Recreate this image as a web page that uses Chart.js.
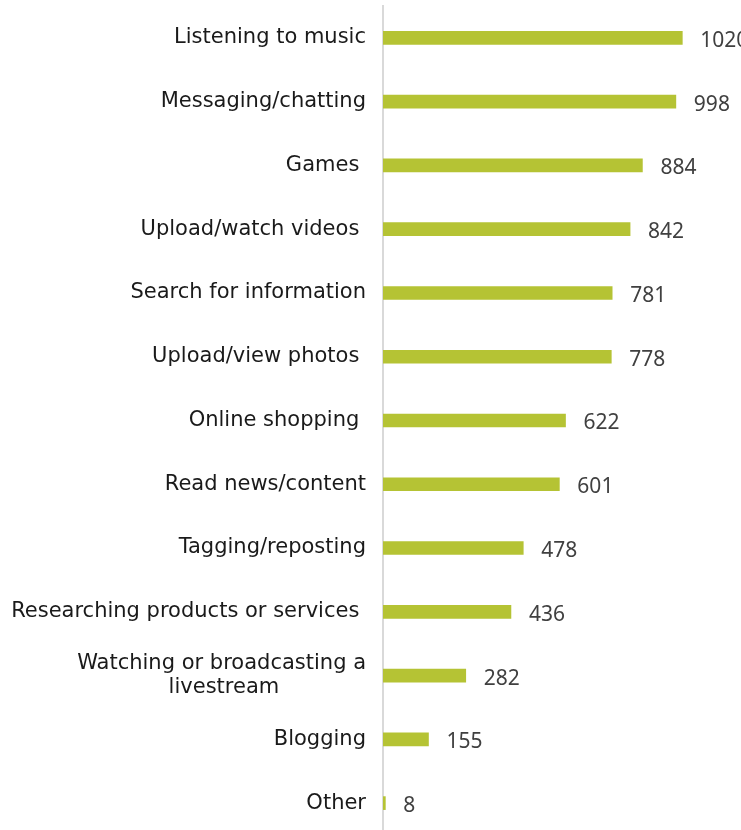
<!DOCTYPE html>
<html>
<head>
<meta charset="utf-8">
<script src="https://cdn.jsdelivr.net/npm/chart.js@4/dist/chart.umd.min.js"></script>
<style>
  html, body { margin: 0; padding: 0; background: #fff; overflow: hidden; }
  #wrap { width: 741px; height: 830px; overflow: hidden; }
</style>
</head>
<body>
<div id="wrap"><canvas id="myChart" width="741" height="835"></canvas></div>
<script>
// Activities and number of respondents
const atividades = [
  'Listening to music',
  'Messaging/chatting',
  'Games ',
  'Upload/watch videos ',
  'Search for information',
  'Upload/view photos ',
  'Online shopping ',
  'Read news/content',
  'Tagging/reposting',
  'Researching products or services ',
  ['Watching or broadcasting a', 'livestream'],
  'Blogging',
  'Other'
];
const respostas = [1020, 998, 884, 842, 781, 778, 622, 601, 478, 436, 282, 155, 8];

const fonteRotulo = '21px "DejaVu Sans"';
const medidor = document.createElement('canvas').getContext('2d');
medidor.font = fonteRotulo;

// centre the lines of a multi-line label by padding shorter ones with spaces
function centralizar(linhas) {
  const larg = linhas.map(l => medidor.measureText(l).width);
  const max = Math.max(...larg);
  const esp = medidor.measureText(' ').width;
  return linhas.map((l, i) => l + ' '.repeat(Math.round((max - larg[i]) / 2 / esp)));
}

// value printed just after each bar
const valoresNasBarras = {
  id: 'valoresNasBarras',
  afterDatasetsDraw(chart) {
    const ctx = chart.ctx;
    const meta = chart.getDatasetMeta(0);
    ctx.save();
    ctx.font = '21px "Noto Sans"';
    ctx.fillStyle = '#404040';
    ctx.textAlign = 'left';
    ctx.textBaseline = 'middle';
    meta.data.forEach((bar, i) => {
      ctx.fillText(String(respostas[i]), bar.x + 18, bar.y + 3);
    });
    ctx.restore();
  }
};

const ctx = document.getElementById('myChart').getContext('2d');
const myChart = new Chart(ctx, {
  type: 'bar',
  data: {
    labels: atividades,
    datasets: [{
      data: respostas,
      backgroundColor: '#b5c334',
      barThickness: 13
    }]
  },
  options: {
    indexAxis: 'y',
    responsive: false,
    animation: false,
    layout: { padding: { top: 6, right: 0, bottom: 0, left: 0 } },
    plugins: {
      legend: { display: false },
      tooltip: { enabled: false }
    },
    scales: {
      x: {
        display: false,
        min: 0,
        max: 1220
      },
      y: {
        afterFit(scale) {
          scale.width = 383;
          scale.paddingTop = 0;
          scale.paddingBottom = 0;
        },
        grid: { display: false, drawTicks: false },
        border: { display: true, color: '#d9d9d9', width: 2 },
        ticks: {
          padding: 17,
          color: '#1a1a1a',
          font: { family: 'DejaVu Sans', size: 21, lineHeight: 1.1 },
          callback(value) {
            const rot = this.getLabelForValue(value);
            return Array.isArray(atividades[value]) ? centralizar(atividades[value]) : rot;
          }
        }
      }
    }
  },
  plugins: [valoresNasBarras]
});
</script>
</body>
</html>
